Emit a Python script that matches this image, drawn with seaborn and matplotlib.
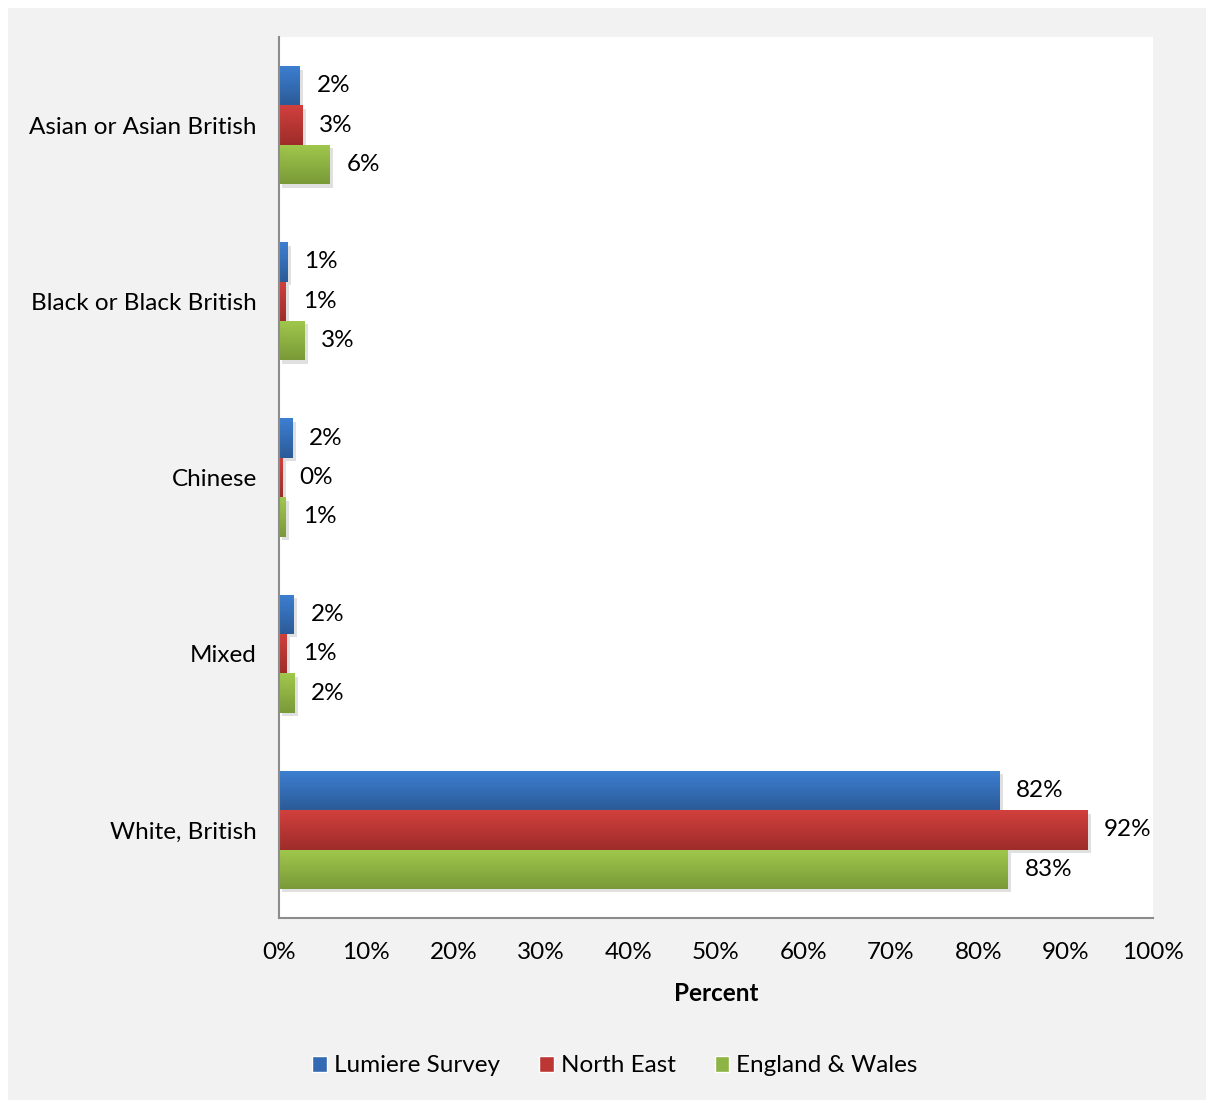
import numpy as np
import pandas as pd
import matplotlib
matplotlib.use("Agg")
import matplotlib.pyplot as plt
import matplotlib.patches as mpatches
import matplotlib.patheffects as pe
from matplotlib.colors import LinearSegmentedColormap
import seaborn as sns

# Ethnic group shares (percent)
categories = ["Asian or Asian British", "Black or Black British", "Chinese", "Mixed", "White, British"]
series = ["Lumiere Survey", "North East", "England & Wales"]
lumiere = [2.4, 1.0, 1.5, 1.7, 82.4]
north_east = [2.7, 0.8, 0.4, 0.9, 92.5]
england_wales = [5.8, 2.9, 0.8, 1.8, 83.4]
xticks = [0, 10, 20, 30, 40, 50, 60, 70, 80, 90, 100]

# colour gradients (top, bottom) for each series
top_colors = ["#3d7fd2", "#d1403d", "#a0c84c"]
bottom_colors = ["#2b5b98", "#9e2c2a", "#7a9a38"]
base_colors = ["#3469b3", "#bc3734", "#8db444"]

df = pd.DataFrame({
    "Ethnicity": categories * 3,
    "Series": sum([[s] * len(categories) for s in series], []),
    "Percent": lumiere + north_east + england_wales,
})

sns.set_theme(style="white")
plt.rcParams["font.family"] = ["Lato", "DejaVu Sans"]
FS = 17.5

fig = plt.figure(figsize=(12.06, 11.0), dpi=100, facecolor="white")
W, H = 1206, 1100
# grey chart area
fig.patches.append(mpatches.Rectangle((8 / W, 0), 1 - 8 / W, 1 - 8 / H,
                                      transform=fig.transFigure, facecolor="#f2f2f2",
                                      edgecolor="none", zorder=-10))

ax = fig.add_axes([279 / W, 1 - 918 / H, (1153 - 279) / W, (918 - 37) / H])
ax.set_facecolor("white")

sns.barplot(data=df, y="Ethnicity", x="Percent", hue="Series", order=categories,
            hue_order=series, palette=base_colors, orient="h", width=0.67,
            ax=ax, errorbar=None, legend=False, saturation=1)

# gradient fill and soft shadow on every bar
grad = np.linspace(0, 1, 64).reshape(-1, 1)
for container, tc, bc, vals in zip(ax.containers, top_colors, bottom_colors,
                                   [lumiere, north_east, england_wales]):
    cmap = LinearSegmentedColormap.from_list("g", [tc, bc])
    for bar, v in zip(container, vals):
        x0, y0 = bar.get_x(), bar.get_y()
        w, h = bar.get_width(), bar.get_height()
        bar.set_edgecolor("none")
        bar.set_path_effects([pe.SimplePatchShadow(offset=(2.5, -2.5), shadow_rgbFace="black",
                                                   alpha=0.12), pe.Normal()])
        im = ax.imshow(grad, cmap=cmap, aspect="auto", extent=(x0, x0 + w, y0 + h, y0),
                       zorder=bar.get_zorder() + 0.1, interpolation="bicubic")
        im.set_clip_path(bar)
        ax.text(x0 + w + 1.9, y0 + h / 2, f"{round(v):d}%", va="center", ha="left",
                fontsize=FS, color="black", zorder=5)
ax.set_xlim(0, 100)
ax.set_ylim(len(categories) - 0.5, -0.5)

ax.set_xticks(xticks)
ax.set_xticklabels([f"{t}%" for t in xticks], fontsize=FS)
ax.tick_params(axis="x", pad=17, length=0, colors="black")
ax.tick_params(axis="y", pad=16, length=0, labelsize=FS, colors="black")
ax.set_ylabel("")
ax.set_xlabel("Percent", fontsize=FS, fontweight="bold", labelpad=14, color="black")

for side in ["top", "right"]:
    ax.spines[side].set_visible(False)
for side in ["left", "bottom"]:
    ax.spines[side].set_color("#8c8c8c")
    ax.spines[side].set_linewidth(1.5)

handles = [mpatches.Patch(facecolor=c, label=s) for c, s in zip(base_colors, series)]
fig.legend(handles=handles, loc="center", bbox_to_anchor=(615 / W, 1 - 1066 / H), ncol=3,
           frameon=False, fontsize=FS, handlelength=0.6, handleheight=0.6,
           handletextpad=0.3, columnspacing=1.6, labelcolor="black")

fig.savefig("out.png", dpi=100, facecolor=fig.get_facecolor())
